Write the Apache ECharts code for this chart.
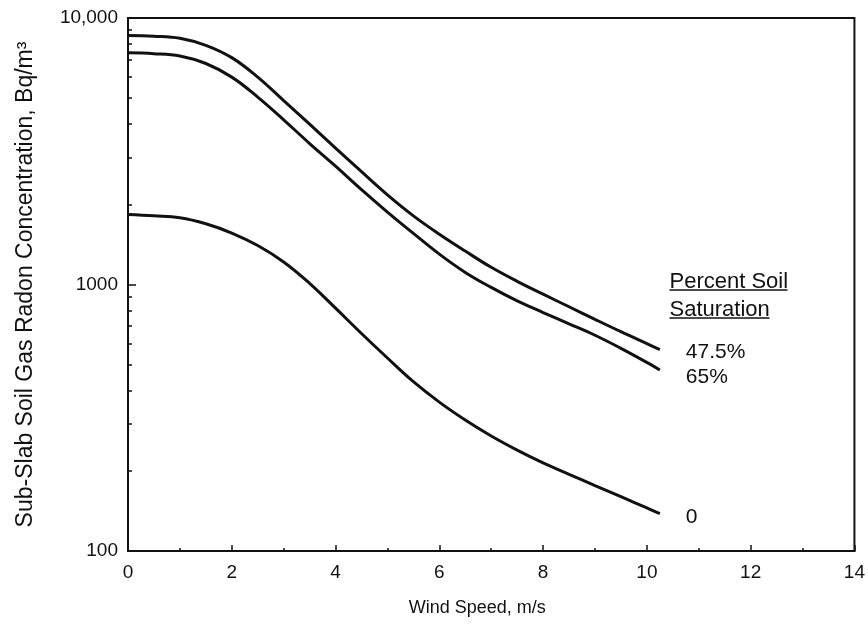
<!DOCTYPE html>
<html>
<head>
<meta charset="utf-8">
<script src="https://cdn.jsdelivr.net/npm/echarts@6/dist/echarts.min.js"></script>
<style>
  html, body { margin: 0; padding: 0; background: #fff; }
  #chart { width: 868px; height: 627px; }
</style>
</head>
<body>
<div id="chart"></div>
<script>
// Wind speed (m/s) at which each curve is sampled
const windSpeed = [0, 0.5, 1, 1.5, 2, 2.5, 3, 3.5, 4, 4.5, 5, 5.5, 6, 6.5, 7, 7.5, 8, 8.5, 9, 9.5, 10, 10.25];

// Sub-slab soil gas radon concentration (Bq/m3) by percent soil saturation
const sat47_5 = [8600, 8550, 8400, 7900, 7100, 6000, 4900, 4000, 3250, 2650, 2170, 1810, 1545, 1335, 1160, 1028, 920, 825, 740, 665, 600, 570];
const sat65   = [7400, 7350, 7200, 6750, 6000, 5050, 4150, 3380, 2780, 2270, 1870, 1555, 1300, 1110, 975, 868, 785, 712, 645, 576, 510, 478];
const sat0    = [1830, 1810, 1780, 1690, 1560, 1400, 1215, 1010, 815, 655, 530, 432, 362, 310, 270, 239, 214, 194, 176, 160, 145, 138];

const seriesNames = ['47.5%', '65%', '0'];
const seriesValues = [sat47_5, sat65, sat0];

// Axis ticks and their labels
const xTickValues = [0, 2, 4, 6, 8, 10, 12, 14];
const yTickValues = [100, 1000, 10000];
const yTickLabels = ['100', '1000', '10,000'];
const yMinorTickValues = [200, 300, 400, 500, 600, 700, 800, 900, 2000, 3000, 4000, 5000, 6000, 7000, 8000, 9000];

const legendTitle = ['Percent Soil', 'Saturation'];
const xName = 'Wind Speed, m/s';
const yName = 'Sub-Slab Soil Gas Radon Concentration, Bq/m\u00B3';

const FONT = 'Liberation Sans, Arial, Helvetica, sans-serif';
const INK = '#111';

const labelOffsets = [[0, 3], [0, 7], [0, 3]];

const chart = echarts.init(document.getElementById('chart'), null, { renderer: 'canvas' });

const series = seriesNames.map((name, i) => ({
  name: name,
  type: 'line',
  smooth: 0.4,
  showSymbol: false,
  symbol: 'none',
  data: windSpeed.map((x, j) => [x, seriesValues[i][j]]),
  lineStyle: { color: INK, width: 3 },
  endLabel: {
    show: true,
    formatter: '{a}',
    distance: 26,
    offset: labelOffsets[i],
    color: INK,
    fontFamily: FONT,
    fontSize: 21
  },
  xAxisIndex: 0,
  yAxisIndex: 0
}));

const option = {
  animation: false,
  backgroundColor: '#fff',
  grid: {
    left: 128, right: 12, top: 18, bottom: 76,
    show: true, borderColor: INK, borderWidth: 2, backgroundColor: 'transparent'
  },
  xAxis: {
    type: 'value',
    min: 0, max: 14, interval: 2,
    name: xName,
    nameLocation: 'middle',
    nameGap: 48,
    nameTextStyle: { color: INK, fontFamily: FONT, fontSize: 18, padding: [0, 28, 0, 0] },
    axisLine: { show: true, lineStyle: { color: INK, width: 2 } },
    axisTick: { show: true, inside: true, length: 6, lineStyle: { color: INK, width: 1.5 } },
    minorTick: { show: true, splitNumber: 2, length: 3, lineStyle: { color: INK, width: 1.5 } },
    axisLabel: {
      color: INK, fontFamily: FONT, fontSize: 19, margin: 12,
      customValues: xTickValues
    },
    splitLine: { show: false }
  },
  yAxis: [
    {
      type: 'log',
      logBase: 10,
      min: 100, max: 10000,
      name: yName,
      nameLocation: 'middle',
      nameRotate: 90,
      nameGap: 91,
      nameTextStyle: { color: INK, fontFamily: FONT, fontSize: 23 },
      axisLine: { show: true, lineStyle: { color: INK, width: 2 } },
      axisTick: { show: true, inside: true, length: 8, lineStyle: { color: INK, width: 1.5 }, customValues: yTickValues },
      axisLabel: {
        color: INK, fontFamily: FONT, fontSize: 19, margin: 10,
        customValues: yTickValues,
        formatter: v => yTickLabels[yTickValues.indexOf(Math.round(v))] || ''
      },
      splitLine: { show: false }
    },
    {
      type: 'log',
      logBase: 10,
      min: 100, max: 10000,
      position: 'left',
      axisLine: { show: false },
      axisTick: { show: true, inside: true, length: 4, lineStyle: { color: INK, width: 1.5 }, customValues: yMinorTickValues },
      axisLabel: { show: false },
      splitLine: { show: false }
    }
  ],
  series: series,
  graphic: [
    {
      type: 'group',
      left: 667, top: 271,
      children: [
        { type: 'text', x: 0, y: 0, style: { text: legendTitle[0], font: '22px ' + FONT, fill: INK } },
        { type: 'line', shape: { x1: 0, y1: 19, x2: 118, y2: 19 }, style: { stroke: INK, lineWidth: 1.5 } },
        { type: 'text', x: 0, y: 28, style: { text: legendTitle[1], font: '22px ' + FONT, fill: INK } },
        { type: 'line', shape: { x1: 0, y1: 47, x2: 100, y2: 47 }, style: { stroke: INK, lineWidth: 1.5 } }
      ]
    }
  ]
};

chart.setOption(option);
</script>
</body>
</html>
